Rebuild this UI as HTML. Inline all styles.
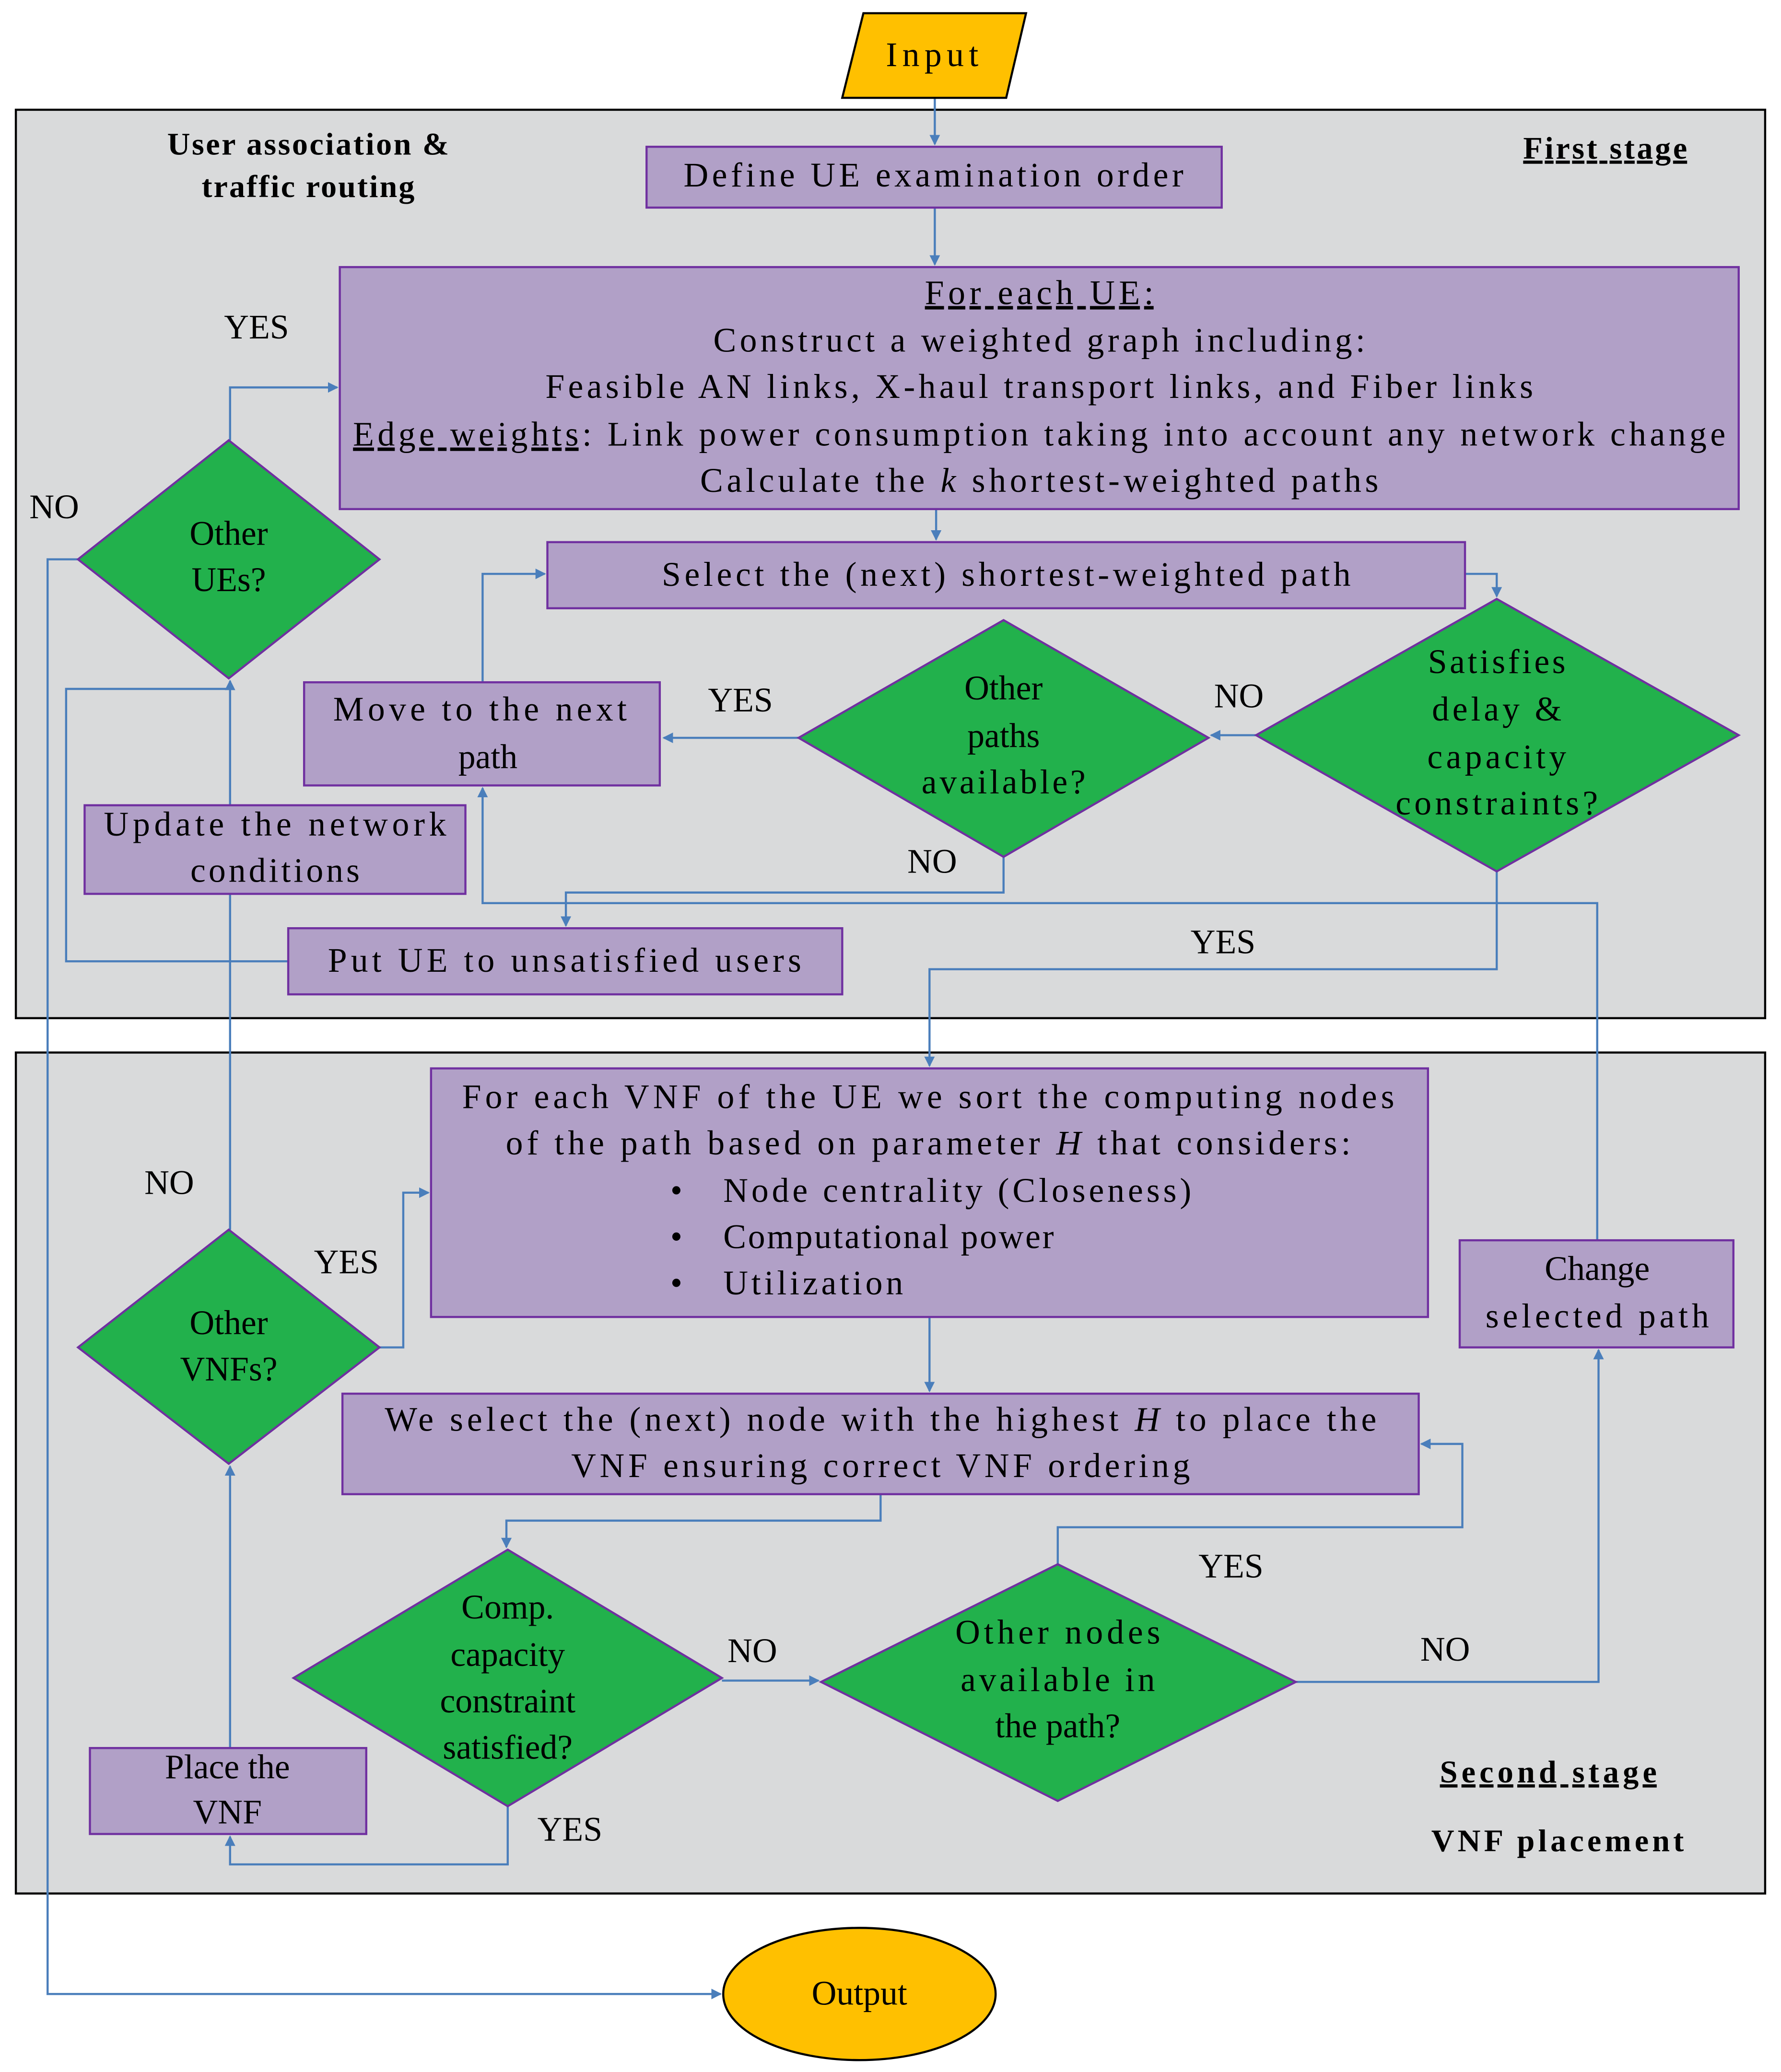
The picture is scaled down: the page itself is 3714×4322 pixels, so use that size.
<!DOCTYPE html>
<html><head><meta charset="utf-8">
<style>
html,body{margin:0;padding:0;background:#fff;}
svg{display:block;}
text{font-family:"Liberation Serif",serif;font-size:26px;fill:#000;}
.b{font-weight:bold;font-size:24px;}
.ln{fill:none;stroke:#4a7ebb;stroke-width:1.6;}
.bx{fill:#b1a0c7;stroke:#7030a0;stroke-width:1.6;}
.dm{fill:#22b14c;stroke:#7030a0;stroke-width:1.6;}
</style></head>
<body>
<svg width="3714" height="4322" viewBox="0 0 1347 1567" preserveAspectRatio="none" xmlns="http://www.w3.org/2000/svg">
<defs>
<marker id="a" markerWidth="8" markerHeight="8" refX="7" refY="4" orient="auto" markerUnits="userSpaceOnUse">
<path d="M0,0 L8,4 L0,8 z" fill="#4a7ebb"/></marker>
</defs>
<rect width="1347" height="1567" fill="#fff"/>
<rect x="12" y="83" width="1323" height="687" fill="#d9dadb" stroke="#000" stroke-width="1.6"/>
<rect x="12" y="796" width="1323" height="636" fill="#d9dadb" stroke="#000" stroke-width="1.6"/>
<g text-anchor="middle">
<text class="b" x="233" y="117" textLength="213">User association &amp;</text>
<text class="b" x="233" y="149" textLength="161">traffic routing</text>
<text class="b" x="1214" y="120" textLength="124" text-decoration="underline">First stage</text>
<text class="b" x="1171" y="1348" textLength="164" text-decoration="underline">Second stage</text>
<text class="b" x="1178" y="1400" textLength="191">VNF placement</text>
</g>

<path class="ln" d="M707,74 V109" marker-end="url(#a)"/>
<path class="ln" d="M707,157 V200" marker-end="url(#a)"/>
<path class="ln" d="M708,385 V408" marker-end="url(#a)"/>
<path class="ln" d="M1108,434 H1132 V451" marker-end="url(#a)"/>
<path class="ln" d="M950,556 H916" marker-end="url(#a)"/>
<path class="ln" d="M604,558 H502" marker-end="url(#a)"/>
<path class="ln" d="M365,516 V434 H412" marker-end="url(#a)"/>
<path class="ln" d="M759,648 V675 H428 V700" marker-end="url(#a)"/>
<path class="ln" d="M218,727 H50 V521 H174" />
<path class="ln" d="M174,930 V515" marker-end="url(#a)"/>
<path class="ln" d="M174,333 V293 H255" marker-end="url(#a)"/>
<path class="ln" d="M59,423 H36 V1508 H545" marker-end="url(#a)"/>
<path class="ln" d="M1132,659 V733 H703 V806" marker-end="url(#a)"/>
<path class="ln" d="M1208,938 V683 H365 V596" marker-end="url(#a)"/>
<path class="ln" d="M703,996 V1052" marker-end="url(#a)"/>
<path class="ln" d="M666,1130 V1150 H383 V1170" marker-end="url(#a)"/>
<path class="ln" d="M546,1271 H619" marker-end="url(#a)"/>
<path class="ln" d="M800,1183 V1155 H1106 V1092 H1075" marker-end="url(#a)"/>
<path class="ln" d="M980,1272 H1209 V1021" marker-end="url(#a)"/>
<path class="ln" d="M384,1366 V1410 H174 V1389" marker-end="url(#a)"/>
<path class="ln" d="M174,1322 V1109" marker-end="url(#a)"/>
<path class="ln" d="M287,1019 H305 V902 H324" marker-end="url(#a)"/>

<polygon points="653,10 776,10 761,74 637,74" fill="#ffc000" stroke="#000" stroke-width="1.6"/>
<rect class="bx" x="489" y="111" width="435" height="46"/>
<rect class="bx" x="257" y="202" width="1058" height="183"/>
<rect class="bx" x="414" y="410" width="694" height="50"/>
<polygon class="dm" points="1132,453 1315,556 1132,659 950,556"/>
<polygon class="dm" points="759,469 914,558 759,648 604,558"/>
<rect class="bx" x="230" y="516" width="269" height="78"/>
<rect class="bx" x="218" y="702" width="419" height="50"/>
<rect class="bx" x="64" y="609" width="288" height="67"/>
<polygon class="dm" points="173,333 287,423 173,513 59,423"/>
<rect class="bx" x="326" y="808" width="754" height="188"/>
<rect class="bx" x="1104" y="938" width="207" height="81"/>
<rect class="bx" x="259" y="1054" width="814" height="76"/>
<polygon class="dm" points="384,1172 546,1269 384,1366 222,1269"/>
<polygon class="dm" points="800,1183 980,1272 800,1362 621,1272"/>
<rect class="bx" x="68" y="1322" width="209" height="65"/>
<polygon class="dm" points="173,930 287,1019 173,1107 59,1019"/>
<ellipse cx="650" cy="1508" rx="103" ry="50" fill="#ffc000" stroke="#000" stroke-width="1.6"/>

<g text-anchor="middle">
<text x="705" y="50" textLength="70">Input</text>
<text x="706" y="141" textLength="378">Define UE examination order</text>
<text x="786" y="230" textLength="173" text-decoration="underline">For each UE:</text>
<text x="786" y="266" textLength="493">Construct a weighted graph including:</text>
<text x="786" y="301" textLength="747">Feasible AN links, X-haul transport links, and Fiber links</text>
<text x="786" y="337" textLength="1038"><tspan text-decoration="underline">Edge weights</tspan>: Link power consumption taking into account any network change</text>
<text x="786" y="372" textLength="513">Calculate the <tspan font-style="italic">k</tspan> shortest-weighted paths</text>
<text x="761" y="443" textLength="521">Select the (next) shortest-weighted path</text>
<text x="1132" y="509" textLength="104">Satisfies</text>
<text x="1132" y="545" textLength="98">delay &amp;</text>
<text x="1132" y="581" textLength="105">capacity</text>
<text x="1132" y="616" textLength="153">constraints?</text>
<text x="759" y="529">Other</text>
<text x="759" y="565">paths</text>
<text x="759" y="600" textLength="124">available?</text>
<text x="363" y="545" textLength="222">Move to the next</text>
<text x="369" y="581">path</text>
<text x="427" y="735" textLength="358">Put UE to unsatisfied users</text>
<text x="208" y="632" textLength="259">Update the network</text>
<text x="208" y="667" textLength="128">conditions</text>
<text x="173" y="412">Other</text>
<text x="173" y="447">UEs?</text>
<text x="194" y="256">YES</text>
<text x="41" y="392">NO</text>
<text x="560" y="538">YES</text>
<text x="937" y="535">NO</text>
<text x="705" y="660">NO</text>
<text x="925" y="721">YES</text>
<text x="128" y="903">NO</text>
<text x="702" y="838" textLength="705">For each VNF of the UE we sort the computing nodes</text>
<text x="702" y="873" textLength="639">of the path based on parameter <tspan font-style="italic">H</tspan> that considers:</text>
<text x="1208" y="968">Change</text>
<text x="1208" y="1004" textLength="169">selected path</text>
<text x="666" y="1082" textLength="750">We select the (next) node with the highest <tspan font-style="italic">H</tspan> to place the</text>
<text x="666" y="1117" textLength="468">VNF ensuring correct VNF ordering</text>
<text x="384" y="1224">Comp.</text>
<text x="384" y="1260">capacity</text>
<text x="384" y="1295">constraint</text>
<text x="384" y="1330">satisfied?</text>
<text x="800" y="1243" textLength="155">Other nodes</text>
<text x="800" y="1279" textLength="147">available in</text>
<text x="800" y="1314">the path?</text>
<text x="172" y="1345">Place the</text>
<text x="172" y="1379">VNF</text>
<text x="173" y="1009">Other</text>
<text x="173" y="1044">VNFs?</text>
<text x="262" y="963">YES</text>
<text x="569" y="1257">NO</text>
<text x="931" y="1193">YES</text>
<text x="1093" y="1256">NO</text>
<text x="431" y="1392">YES</text>
<text x="650" y="1516">Output</text>
</g>
<text x="507" y="909">•</text><text x="547" y="909" textLength="354">Node centrality (Closeness)</text>
<text x="507" y="944">•</text><text x="547" y="944" textLength="250">Computational power</text>
<text x="507" y="979">•</text><text x="547" y="979" textLength="136">Utilization</text>
</svg>
</body></html>
